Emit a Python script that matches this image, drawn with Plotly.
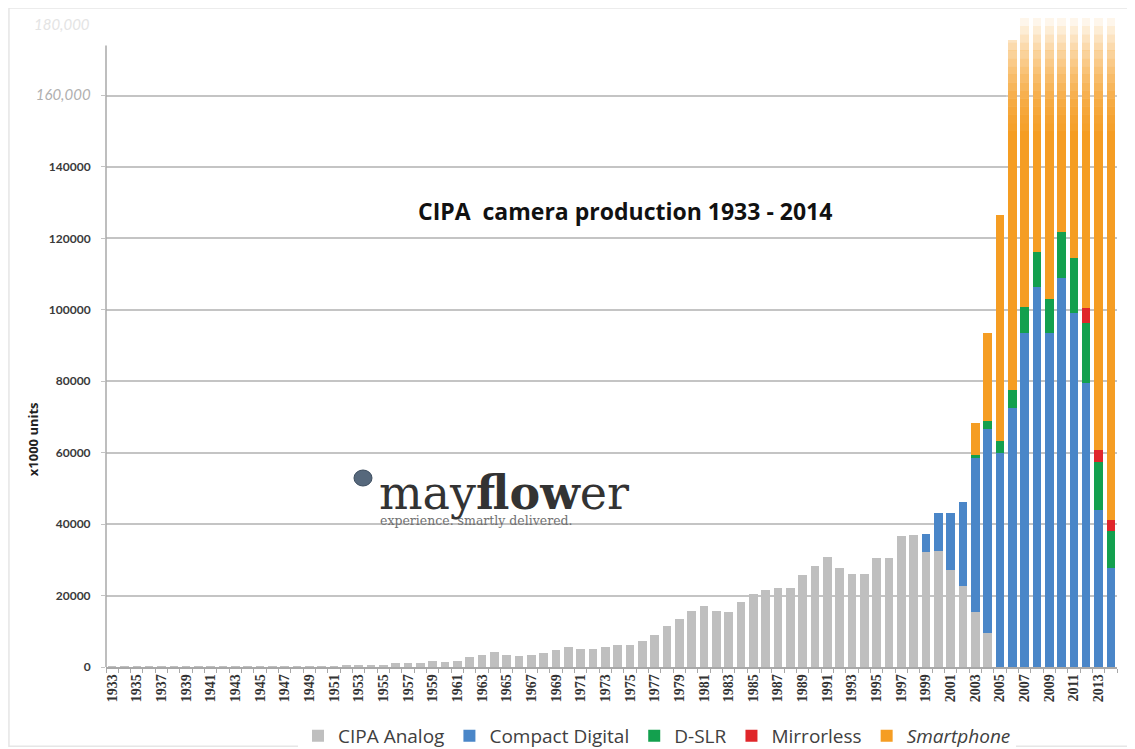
import plotly.graph_objects as go

years = list(range(1933, 2015))

analog = [
    20, 30, 40, 60, 80, 90, 100, 100, 90, 60, 40, 20, 10, 30, 50, 80, 120, 180,   # 1933-1950
    250, 350, 450, 650, 700, 1000, 1200, 1000, 1800, 1500,                         # 1951-1960
    1800, 2700, 3500, 4300, 3500, 3000, 3500, 3800, 4700, 5600,                    # 1961-1970
    5000, 5000, 5500, 6100, 6300, 7400, 9100, 11600, 13500, 15700,                 # 1971-1980
    17200, 15800, 15500, 18200, 20500, 21600, 22000, 22200, 25700, 28200,          # 1981-1990
    30700, 27600, 26000, 26000, 30600, 30500, 36700, 37000, 32200, 32400,          # 1991-2000
    27200, 22800, 15500, 9400, 0, 0, 0, 0, 0, 0,                                   # 2001-2010
    0, 0, 0, 0,                                                                    # 2011-2014
]

compact_years = list(range(1999, 2015))
compact_vals = [5000, 10800, 16000, 23500, 42900, 57100, 59800, 72400,
                93400, 106300, 93400, 108800, 99000, 79400, 44000, 27600]

dslr_years = list(range(2003, 2015))
dslr_vals = [1000, 2400, 3600, 5200, 7500, 9800, 9600, 13100, 15600, 17000, 13500, 10600]

mirrorless_years = [2012, 2013, 2014]
mirrorless_vals = [4000, 3300, 3000]

smartphone_years = list(range(2003, 2015))
smartphone_vals = [9000, 24500, 63200, 98000, 122000, 139000, 172000,
                   297000, 472000, 680000, 969000, 1245000]

y_ticks = [0, 20000, 40000, 60000, 80000, 100000, 120000, 140000, 160000]
y_ticktext = ["0", "20000", "40000", "60000", "80000", "100000", "120000", "140000",
              "<i><span style='color:#b0b0b0;font-weight:normal;font-size:15px'>160,000</span></i>"]
x_ticktext = [str(y) if (y - 1933) % 2 == 0 else "" for y in years]

Y_MAX = 181700

fig = go.Figure()
fig.add_bar(x=years, y=analog, name="CIPA Analog", marker_color="#BFBFBF")
fig.add_bar(x=compact_years, y=compact_vals, name="Compact Digital", marker_color="#4A86C8")
fig.add_bar(x=dslr_years, y=dslr_vals, name="D-SLR", marker_color="#13A04E")
fig.add_bar(x=mirrorless_years, y=mirrorless_vals, name="Mirrorless", marker_color="#E0262A")
fig.add_bar(x=smartphone_years, y=smartphone_vals, name="<i>Smartphone</i>", marker_color="#F59D23")
fig.update_traces(marker_line_width=0)

shapes = []
# fade-out of the tall bars toward the top
n = 14
lo = 150000
for i in range(n):
    y0 = lo + (Y_MAX - lo) * i / n
    y1 = lo + (Y_MAX - lo) * (i + 1) / n
    shapes.append(dict(type="rect", xref="x", yref="y", x0=2005.5, x1=2014.6,
                       y0=y0, y1=y1 + 50, line_width=0, fillcolor="white",
                       opacity=min(0.93, 0.03 + 0.88 * ((i + 1) / n) ** 1.6), layer="above"))
# y axis line
shapes.append(dict(type="line", xref="paper", yref="y", x0=0, x1=0, y0=0, y1=174000,
                   line=dict(color="#a8a8a8", width=1.5)))
# outer light frame
shapes.append(dict(type="rect", xref="paper", yref="paper", x0=-0.096, x1=1.013,
                   y0=-0.122, y1=1.0154, line=dict(color="#e6e6e6", width=1.5)))
# logo circle
shapes.append(dict(type="circle", xref="paper", yref="paper", xsizemode="pixel", ysizemode="pixel",
                   xanchor=0.2542, yanchor=0.2912, x0=-9, x1=9, y0=-8, y1=8,
                   fillcolor="#56687c", line=dict(color="#3e4e60", width=1)))

annotations = [
    dict(text="CIPA&nbsp;&nbsp;camera production 1933 - 2014", xref="paper", yref="paper",
         x=0.513, y=0.7026, showarrow=False, xanchor="center", yanchor="middle",
         font=dict(family="Open Sans", size=23, color="#111111", weight="bold")),
    dict(text="<b>x1000 units</b>", xref="paper", yref="paper", x=-0.083, y=0.291,
         textangle=-90, showarrow=False, font=dict(family="Open Sans", size=13, color="#222222")),
    dict(text="<i>180,000</i>", xref="paper", yref="y", x=0, y=180000, xanchor="right",
         xshift=-14, showarrow=False, font=dict(family="Lato", size=15, color="#e4e4e4")),
    dict(text="may<b>flow</b>er", xref="paper", yref="paper", x=0.268, y=0.2685,
         xanchor="left", yanchor="middle", showarrow=False,
         font=dict(family="DejaVu Serif", size=46, color="#333333")),
    dict(text="experience. smartly delivered.", xref="paper", yref="paper", x=0.269, y=0.2255,
         xanchor="left", yanchor="middle", showarrow=False,
         font=dict(family="DejaVu Serif", size=12.5, color="#707070")),
]

# the page offsets the figure by 8px (body margin), so the figure is sized to the visible area
fig.update_layout(
    barmode="stack",
    bargap=0.3,
    width=1127, height=741,
    margin=dict(l=98, r=18, t=10, b=82, autoexpand=False),
    paper_bgcolor="white", plot_bgcolor="white",
    showlegend=True,
    legend=dict(orientation="h", x=0.545, xanchor="center", y=-0.106, yanchor="middle",
                font=dict(family="Open Sans", size=19, color="#404040"), traceorder="normal",
                itemwidth=30),
    xaxis=dict(range=[1932.5, 2014.5], tickmode="array", tickvals=years, ticktext=x_ticktext,
               tickangle=-90, ticks="", showgrid=False, zeroline=False, automargin=False,
               showline=True, linecolor="#a8a8a8", linewidth=1.5,
               tickfont=dict(family="Liberation Serif", size=14, color="#333333", weight="bold"),
               minor=dict(ticks="outside", tick0=1932.5, dtick=1, ticklen=4,
                          tickcolor="#a8a8a8", showgrid=False)),
    yaxis=dict(range=[0, Y_MAX], tickmode="array", tickvals=y_ticks, ticktext=y_ticktext,
               showgrid=True, gridcolor="#c4c4c4", gridwidth=1.5, zeroline=False, automargin=False,
               ticks="outside", ticklen=4, tickcolor="#c4c4c4", ticklabelstandoff=8,
               tickfont=dict(family="Lato", size=12, color="#3a3a3a", weight="bold")),
    shapes=shapes,
    annotations=annotations,
)

fig.write_html("out.html")
